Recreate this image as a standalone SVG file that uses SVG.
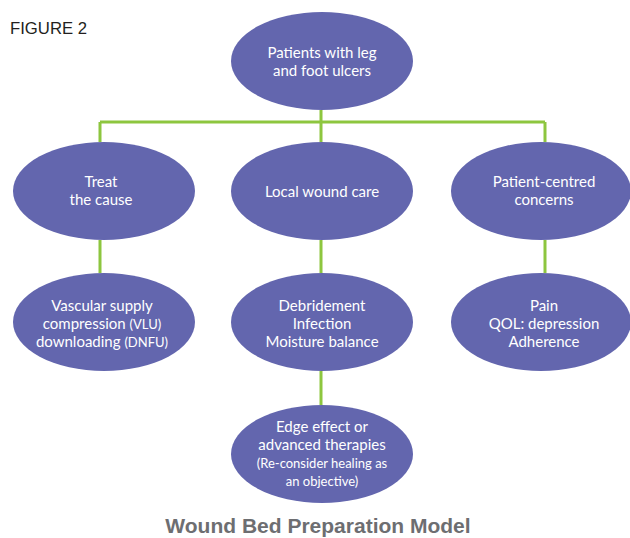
<svg xmlns="http://www.w3.org/2000/svg" width="630" height="538" viewBox="0 0 630 538">
<style>
.n{fill:#6366ae}
.t{fill:#fff;font-family:Lato,"Open Sans",sans-serif;font-size:15px;text-anchor:middle}
.s{font-size:13px}
.c{stroke:#8dc63f;stroke-width:3;fill:none}
</style>
<rect width="630" height="538" fill="#fff"/>
<text x="10" y="34" font-family="'Liberation Sans',Arial,sans-serif" font-size="17" fill="#231f20" textLength="77" lengthAdjust="spacingAndGlyphs">FIGURE 2</text>
<g id="connectors" class="c">
<path d="M321 110V122M100 122H545M100 122V142M321 122V142M545 122V142"/>
<path d="M100 240V273M321 240V273M545 240V273"/>
<path d="M321 371V405"/>
</g>
<g id="n1"><ellipse class="n" cx="322" cy="61" rx="91" ry="49"/><text class="t" x="322"><tspan x="322" y="58">Patients with leg</tspan><tspan x="322" y="76">and foot ulcers</tspan></text></g>
<g id="n2"><ellipse class="n" cx="104" cy="191" rx="91" ry="49"/><text class="t"><tspan x="101" y="187">Treat</tspan><tspan x="101" y="205">the cause</tspan></text></g>
<g id="n3"><ellipse class="n" cx="322" cy="191" rx="91" ry="49"/><text class="t" x="322" y="197">Local wound care</text></g>
<g id="n4"><ellipse class="n" cx="541" cy="191" rx="90" ry="49"/><text class="t"><tspan x="544" y="187">Patient-centred</tspan><tspan x="544" y="205">concerns</tspan></text></g>
<g id="n5"><ellipse class="n" cx="104" cy="322" rx="91" ry="49"/><text class="t"><tspan x="102" y="311">Vascular supply</tspan><tspan x="102" y="329">compression <tspan class="s">(VLU)</tspan></tspan><tspan x="102" y="347">downloading <tspan class="s">(DNFU)</tspan></tspan></text></g>
<g id="n6"><ellipse class="n" cx="322" cy="322" rx="91" ry="49"/><text class="t"><tspan x="322" y="311">Debridement</tspan><tspan x="322" y="329">Infection</tspan><tspan x="322" y="347">Moisture balance</tspan></text></g>
<g id="n7"><ellipse class="n" cx="541" cy="322" rx="90" ry="49"/><text class="t"><tspan x="544" y="311">Pain</tspan><tspan x="544" y="329">QOL: depression</tspan><tspan x="544" y="347">Adherence</tspan></text></g>
<g id="n8"><ellipse class="n" cx="322" cy="454" rx="91" ry="49"/><text class="t"><tspan x="322" y="432">Edge effect or</tspan><tspan x="322" y="450">advanced therapies</tspan><tspan class="s" x="322" y="468">(Re-consider healing as</tspan><tspan class="s" x="322" y="486">an objective)</tspan></text></g>
<text x="318" y="533" font-family="'Liberation Sans',Arial,sans-serif" font-size="21" font-weight="bold" fill="#6d6e71" text-anchor="middle">Wound Bed Preparation Model</text>
</svg>
